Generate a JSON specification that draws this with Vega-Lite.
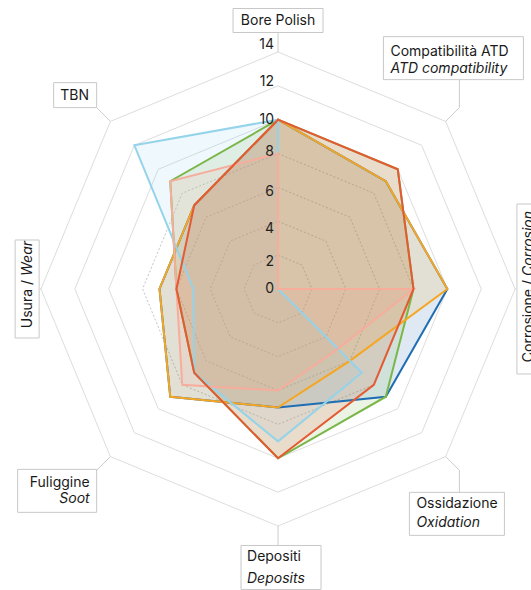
{
  "$schema": "https://vega.github.io/schema/vega-lite/v6.json",
  "width": 531,
  "height": 590,
  "autosize": "none",
  "padding": 0,
  "background": "white",
  "config": {"view": {"stroke": null}, "font": "Inter"},
  "datasets": {
    "assi": [
      {"asse": "Bore Polish", "en": null, "ord": 0},
      {"asse": "Compatibilità ATD", "en": "ATD compatibility", "ord": 1},
      {"asse": "Corrosione", "en": "Corrosion", "ord": 2},
      {"asse": "Ossidazione", "en": "Oxidation", "ord": 3},
      {"asse": "Depositi", "en": "Deposits", "ord": 4},
      {"asse": "Fuliggine", "en": "Soot", "ord": 5},
      {"asse": "Usura", "en": "Wear", "ord": 6},
      {"asse": "TBN", "en": null, "ord": 7}
    ],
    "livelli": [
      {"livello": 2, "ord": [0, 1, 2, 3, 4, 5, 6, 7]},
      {"livello": 4, "ord": [0, 1, 2, 3, 4, 5, 6, 7]},
      {"livello": 6, "ord": [0, 1, 2, 3, 4, 5, 6, 7]},
      {"livello": 8, "ord": [0, 1, 2, 3, 4, 5, 6, 7]},
      {"livello": 10, "ord": [0, 1, 2, 3, 4, 5, 6, 7]},
      {"livello": 12, "ord": [0, 1, 2, 3, 4, 5, 6, 7]},
      {"livello": 14, "ord": [0, 1, 2, 3, 4, 5, 6, 7]}
    ],
    "tacche": [
      {"v": 0}, {"v": 2}, {"v": 4}, {"v": 6}, {"v": 8}, {"v": 10}, {"v": 12}, {"v": 14}
    ],
    "serie": [
      {"serie": "S1", "asse": "Bore Polish", "valore": 10},
      {"serie": "S1", "asse": "Compatibilità ATD", "valore": 9},
      {"serie": "S1", "asse": "Corrosione", "valore": 10},
      {"serie": "S1", "asse": "Ossidazione", "valore": 9},
      {"serie": "S1", "asse": "Depositi", "valore": 7},
      {"serie": "S1", "asse": "Fuliggine", "valore": 9},
      {"serie": "S1", "asse": "Usura", "valore": 7},
      {"serie": "S1", "asse": "TBN", "valore": 7},
      {"serie": "S2", "asse": "Bore Polish", "valore": 10},
      {"serie": "S2", "asse": "Compatibilità ATD", "valore": 10},
      {"serie": "S2", "asse": "Corrosione", "valore": 8},
      {"serie": "S2", "asse": "Ossidazione", "valore": 9},
      {"serie": "S2", "asse": "Depositi", "valore": 10},
      {"serie": "S2", "asse": "Fuliggine", "valore": 7},
      {"serie": "S2", "asse": "Usura", "valore": 6},
      {"serie": "S2", "asse": "TBN", "valore": 9},
      {"serie": "S3", "asse": "Bore Polish", "valore": 10},
      {"serie": "S3", "asse": "Compatibilità ATD", "valore": 9},
      {"serie": "S3", "asse": "Corrosione", "valore": 10},
      {"serie": "S3", "asse": "Ossidazione", "valore": 6},
      {"serie": "S3", "asse": "Depositi", "valore": 7},
      {"serie": "S3", "asse": "Fuliggine", "valore": 9},
      {"serie": "S3", "asse": "Usura", "valore": 7},
      {"serie": "S3", "asse": "TBN", "valore": 7},
      {"serie": "S4", "asse": "Bore Polish", "valore": 10},
      {"serie": "S4", "asse": "Compatibilità ATD", "valore": 0},
      {"serie": "S4", "asse": "Corrosione", "valore": 0},
      {"serie": "S4", "asse": "Ossidazione", "valore": 7},
      {"serie": "S4", "asse": "Depositi", "valore": 9},
      {"serie": "S4", "asse": "Fuliggine", "valore": 7},
      {"serie": "S4", "asse": "Usura", "valore": 5},
      {"serie": "S4", "asse": "TBN", "valore": 12},
      {"serie": "S5", "asse": "Bore Polish", "valore": 8},
      {"serie": "S5", "asse": "Compatibilità ATD", "valore": 0},
      {"serie": "S5", "asse": "Corrosione", "valore": 8},
      {"serie": "S5", "asse": "Ossidazione", "valore": 5},
      {"serie": "S5", "asse": "Depositi", "valore": 6},
      {"serie": "S5", "asse": "Fuliggine", "valore": 8},
      {"serie": "S5", "asse": "Usura", "valore": 6},
      {"serie": "S5", "asse": "TBN", "valore": 9},
      {"serie": "S6", "asse": "Bore Polish", "valore": 10},
      {"serie": "S6", "asse": "Compatibilità ATD", "valore": 10},
      {"serie": "S6", "asse": "Corrosione", "valore": 8},
      {"serie": "S6", "asse": "Ossidazione", "valore": 8},
      {"serie": "S6", "asse": "Depositi", "valore": 10},
      {"serie": "S6", "asse": "Fuliggine", "valore": 7},
      {"serie": "S6", "asse": "Usura", "valore": 6},
      {"serie": "S6", "asse": "TBN", "valore": 7}
    ]
  },
  "layer": [
    {
      "data": {"name": "livelli"},
      "transform": [
        {"filter": "datum.livello >= 10"},
        {"flatten": ["ord"]},
        {"calculate": "PI/2 - datum.ord*PI/4", "as": "ang"},
        {"calculate": "datum.livello*cos(datum.ang)", "as": "gx"},
        {"calculate": "datum.livello*sin(datum.ang)", "as": "gy"}
      ],
      "mark": {"type": "line", "interpolate": "linear-closed", "stroke": "#dddddd", "strokeWidth": 1},
      "encoding": {
        "x": {"field": "gx", "type": "quantitative", "scale": {"domain": [-16.42, 14.94], "nice": false, "zero": false}, "axis": null},
        "y": {"field": "gy", "type": "quantitative", "scale": {"domain": [-17.78, 17.07], "nice": false, "zero": false}, "axis": null},
        "detail": {"field": "livello"},
        "order": {"field": "ord"}
      }
    },
    {
      "data": {"name": "livelli"},
      "transform": [
        {"filter": "datum.livello < 10"},
        {"flatten": ["ord"]},
        {"calculate": "PI/2 - datum.ord*PI/4", "as": "ang"},
        {"calculate": "datum.livello*cos(datum.ang)", "as": "gx"},
        {"calculate": "datum.livello*sin(datum.ang)", "as": "gy"}
      ],
      "mark": {"type": "line", "interpolate": "linear-closed", "stroke": "#c4c4c4", "strokeWidth": 1, "strokeDash": [2, 2]},
      "encoding": {
        "x": {"field": "gx", "type": "quantitative", "scale": {"domain": [-16.42, 14.94], "nice": false, "zero": false}, "axis": null},
        "y": {"field": "gy", "type": "quantitative", "scale": {"domain": [-17.78, 17.07], "nice": false, "zero": false}, "axis": null},
        "detail": {"field": "livello"},
        "order": {"field": "ord"}
      }
    },
    {
      "data": {"name": "serie"},
      "transform": [
        {"lookup": "asse", "from": {"data": {"name": "assi"}, "key": "asse", "fields": ["ord"]}},
        {"calculate": "PI/2 - datum.ord*PI/4", "as": "ang"},
        {"calculate": "datum.valore*cos(datum.ang)", "as": "px"},
        {"calculate": "datum.valore*sin(datum.ang)", "as": "py"}
      ],
      "mark": {"type": "line", "interpolate": "linear-closed", "filled": true, "fillOpacity": 0.15, "strokeOpacity": 0},
      "encoding": {
        "x": {"field": "px", "type": "quantitative", "scale": {"domain": [-16.42, 14.94], "nice": false, "zero": false}, "axis": null},
        "y": {"field": "py", "type": "quantitative", "scale": {"domain": [-17.78, 17.07], "nice": false, "zero": false}, "axis": null},
        "fill": {"field": "serie", "type": "nominal", "legend": null, "scale": {"domain": ["S1", "S2", "S3", "S4", "S5", "S6"], "range": ["#1f6db3", "#7ab648", "#f5a623", "#94d3ea", "#f6ad9c", "#e45a33"]}},
        "order": {"field": "ord"}
      }
    },
    {
      "data": {"name": "serie"},
      "transform": [
        {"lookup": "asse", "from": {"data": {"name": "assi"}, "key": "asse", "fields": ["ord"]}},
        {"calculate": "PI/2 - datum.ord*PI/4", "as": "ang"},
        {"calculate": "datum.valore*cos(datum.ang)", "as": "px"},
        {"calculate": "datum.valore*sin(datum.ang)", "as": "py"}
      ],
      "mark": {"type": "line", "interpolate": "linear-closed", "strokeWidth": 2},
      "encoding": {
        "x": {"field": "px", "type": "quantitative", "scale": {"domain": [-16.42, 14.94], "nice": false, "zero": false}, "axis": null},
        "y": {"field": "py", "type": "quantitative", "scale": {"domain": [-17.78, 17.07], "nice": false, "zero": false}, "axis": null},
        "stroke": {"field": "serie", "type": "nominal", "legend": null, "scale": {"domain": ["S1", "S2", "S3", "S4", "S5", "S6"], "range": ["#1f6db3", "#7ab648", "#f5a623", "#94d3ea", "#f6ad9c", "#e45a33"]}},
        "order": {"field": "ord"}
      }
    },
    {
      "data": {"name": "tacche"},
      "transform": [
        {"calculate": "-4/16.93", "as": "lx"}
      ],
      "mark": {
        "type": "text",
        "align": "right",
        "baseline": "middle",
        "fontSize": 14,
        "color": "#222222",
        "dy": {"expr": "({'0': 0, '2': 7, '4': 8, '6': 5, '8': -2, '10': 0, '12': -4, '14': -7})[datum.v + '']"}
      },
      "encoding": {
        "x": {"field": "lx", "type": "quantitative", "scale": {"domain": [-16.42, 14.94], "nice": false, "zero": false}, "axis": null},
        "y": {"field": "v", "type": "quantitative", "scale": {"domain": [-17.78, 17.07], "nice": false, "zero": false}, "axis": null},
        "text": {"field": "v", "type": "quantitative"}
      }
    },
    {
      "data": {"name": "assi"},
      "transform": [
        {"calculate": "PI/2 - datum.ord*PI/4", "as": "ang"},
        {"calculate": "datum.ord % 4 == 2 ? 14.05 : 15.15", "as": "re"},
        {"calculate": "14*cos(datum.ang)", "as": "x0"},
        {"calculate": "14*sin(datum.ang)", "as": "y0"},
        {"calculate": "datum.re*cos(datum.ang)", "as": "x1"},
        {"calculate": "datum.re*sin(datum.ang)", "as": "y1"}
      ],
      "mark": {"type": "rule", "stroke": "#cccccc", "strokeWidth": 1},
      "encoding": {
        "x": {"field": "x0", "type": "quantitative", "scale": {"domain": [-16.42, 14.94], "nice": false, "zero": false}, "axis": null},
        "y": {"field": "y0", "type": "quantitative", "scale": {"domain": [-17.78, 17.07], "nice": false, "zero": false}, "axis": null},
        "x2": {"field": "x1"},
        "y2": {"field": "y1"}
      }
    },
    {
      "data": {"name": "assi"},
      "transform": [
        {"filter": "datum.ord == 1 || datum.ord == 3"},
        {"calculate": "PI/2 - datum.ord*PI/4", "as": "ang"},
        {"calculate": "15.15*cos(datum.ang)", "as": "x1"},
        {"calculate": "15.15*sin(datum.ang)", "as": "y1"},
        {"calculate": "datum.y1 + (datum.ord == 1 ? 28 : -22)/16.93", "as": "y2"}
      ],
      "mark": {"type": "rule", "stroke": "#cccccc", "strokeWidth": 1},
      "encoding": {
        "x": {"field": "x1", "type": "quantitative", "scale": {"domain": [-16.42, 14.94], "nice": false, "zero": false}, "axis": null},
        "y": {"field": "y1", "type": "quantitative", "scale": {"domain": [-17.78, 17.07], "nice": false, "zero": false}, "axis": null},
        "y2": {"field": "y2"}
      }
    },
    {
      "data": {"name": "assi"},
      "transform": [
        {"calculate": "PI/2 - datum.ord*PI/4", "as": "ang"},
        {"calculate": "datum.ord % 4 == 2 ? 14.05 : 15.15", "as": "re"},
        {"calculate": "datum.re*cos(datum.ang)", "as": "ex"},
        {"calculate": "datum.re*sin(datum.ang)", "as": "ey"},
        {"calculate": "[[-45,45,-24,0],[-76,64,-71,-28],[1,30,-85,85],[-50,45,22,65],[-37,43,0,44],[-79,0,-1,42],[-25,-1,-49,49],[-43,0,-25,0]][datum.ord]", "as": "b"},
        {"calculate": "datum.ex + datum.b[0]/16.93", "as": "bx1"},
        {"calculate": "datum.ex + datum.b[1]/16.93", "as": "bx2"},
        {"calculate": "datum.ey - datum.b[2]/16.93", "as": "by1"},
        {"calculate": "datum.ey - datum.b[3]/16.93", "as": "by2"}
      ],
      "mark": {"type": "rect", "fill": "white", "stroke": "#c8c8c8", "strokeWidth": 1},
      "encoding": {
        "x": {"field": "bx1", "type": "quantitative", "scale": {"domain": [-16.42, 14.94], "nice": false, "zero": false}, "axis": null},
        "y": {"field": "by1", "type": "quantitative", "scale": {"domain": [-17.78, 17.07], "nice": false, "zero": false}, "axis": null},
        "x2": {"field": "bx2"},
        "y2": {"field": "by2"}
      }
    },
    {
      "data": {"name": "assi"},
      "transform": [
        {"calculate": "PI/2 - datum.ord*PI/4", "as": "ang"},
        {"calculate": "datum.ord % 4 == 2 ? 14.05 : 15.15", "as": "re"},
        {"calculate": "datum.re*cos(datum.ang)", "as": "ex"},
        {"calculate": "datum.re*sin(datum.ang)", "as": "ey"},
        {"calculate": "[[0,-12],[-69,-56],[13,-9],[-43,34],[-31,12],[-7,13],[-12,-9],[-22,-12]][datum.ord]", "as": "t"},
        {"calculate": "datum.ex + datum.t[0]/16.93", "as": "tx"},
        {"calculate": "datum.ey - datum.t[1]/16.93", "as": "ty"},
        {"calculate": "datum.ord % 4 == 2 ? datum.asse + ' /' : datum.asse", "as": "testo"}
      ],
      "mark": {
        "type": "text",
        "baseline": "middle",
        "fontSize": 14,
        "color": "#1a1a1a",
        "align": {"expr": "['center','left','right','left','left','right','right','center'][datum.ord]"},
        "angle": {"expr": "datum.ord % 4 == 2 ? 270 : 0"}
      },
      "encoding": {
        "x": {"field": "tx", "type": "quantitative", "scale": {"domain": [-16.42, 14.94], "nice": false, "zero": false}, "axis": null},
        "y": {"field": "ty", "type": "quantitative", "scale": {"domain": [-17.78, 17.07], "nice": false, "zero": false}, "axis": null},
        "text": {"field": "testo"}
      }
    },
    {
      "data": {"name": "assi"},
      "transform": [
        {"filter": "datum.en != null"},
        {"calculate": "PI/2 - datum.ord*PI/4", "as": "ang"},
        {"calculate": "datum.ord % 4 == 2 ? 14.05 : 15.15", "as": "re"},
        {"calculate": "datum.re*cos(datum.ang)", "as": "ex"},
        {"calculate": "datum.re*sin(datum.ang)", "as": "ey"},
        {"calculate": "[[0,0],[-69,-39],[13,-13],[-43,53],[-31,34],[-7,29],[-12,-13],[0,0]][datum.ord]", "as": "t"},
        {"calculate": "datum.ex + datum.t[0]/16.93", "as": "tx"},
        {"calculate": "datum.ey - datum.t[1]/16.93", "as": "ty"}
      ],
      "mark": {
        "type": "text",
        "baseline": "middle",
        "fontSize": 14,
        "fontStyle": "italic",
        "color": "#1a1a1a",
        "align": {"expr": "['center','left','left','left','left','right','left','center'][datum.ord]"},
        "angle": {"expr": "datum.ord % 4 == 2 ? 270 : 0"}
      },
      "encoding": {
        "x": {"field": "tx", "type": "quantitative", "scale": {"domain": [-16.42, 14.94], "nice": false, "zero": false}, "axis": null},
        "y": {"field": "ty", "type": "quantitative", "scale": {"domain": [-17.78, 17.07], "nice": false, "zero": false}, "axis": null},
        "text": {"field": "en"}
      }
    }
  ]
}
